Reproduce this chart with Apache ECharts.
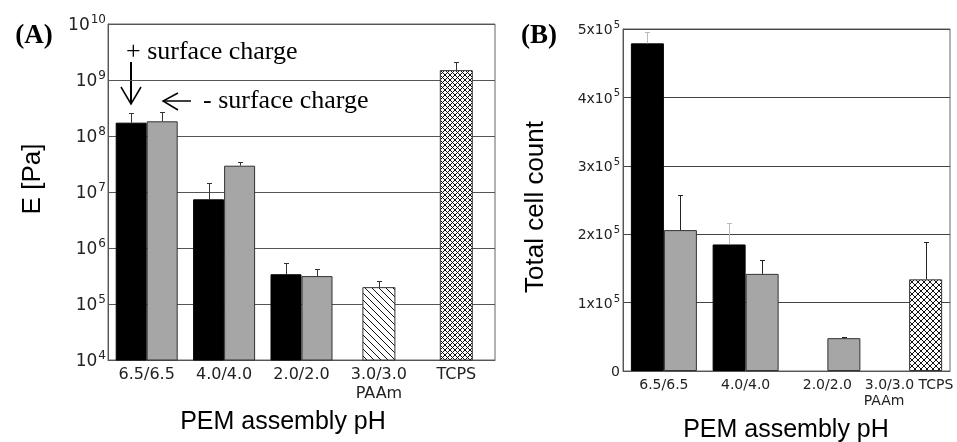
<!DOCTYPE html>
<html lang="en">
<head>
	<meta charset="UTF-8">
	<title></title>
	<script src="https://cdn.jsdelivr.net/npm/echarts@6/dist/echarts.min.js"></script>
	<style>
		html, body{
			width: 100%;
			height: 100%;
			padding: 0;
			margin: 0;
			background-color: #fff;
		}
		#main{
			width: 957px;
			height: 442px;
		}
	</style>
</head>
<body>
	<div id="main"></div>
</body>
<script>
	// (A) modulus, log scale
	let catsA = ['6.5/6.5', '4.0/4.0', '2.0/2.0', '3.0/3.0\nPAAm', 'TCPS'];
	let modBlack = [1.73e8, 7.4e6, 3.4e5, null, null];
	let modBlackTop = [2.55e8, 1.47e7, 5.3e5, null, null];
	let modGray = [1.83e8, 2.95e7, 3.15e5, null, null];
	let modGrayTop = [2.7e8, 3.5e7, 4.3e5, null, null];
	let modCtrl = [null, null, null, 2.0e5, 1.5e9];
	let modCtrlTop = [null, null, null, 2.6e5, 2.1e9];

	// (B) total cell count
	let catsB = ['6.5/6.5', '4.0/4.0', '2.0/2.0', '3.0/3.0 TCPS\nPAAm'];
	let cellBlack = [4.79e5, 1.85e5, null, null];
	let cellBlackTop = [4.95e5, 2.17e5, null, null];
	let cellGray = [2.06e5, 1.42e5, 4.8e4, null];
	let cellGrayTop = [2.57e5, 1.63e5, 5.0e4, null];
	let cellCtrl = [null, null, null, 1.34e5];
	let cellCtrlTop = [null, null, null, 1.88e5];

	let myChart = echarts.init(document.getElementById('main'));

	// 填充图案
	function makePattern(size, both){
		let c = document.createElement('canvas');
		c.width = size;
		c.height = size;
		let ctx = c.getContext('2d');
		ctx.fillStyle = '#fff';
		ctx.fillRect(0, 0, size, size);
		ctx.strokeStyle = '#111';
		ctx.lineWidth = 1;
		for(let k = -1; k <= 1; k++){
			ctx.beginPath();
			ctx.moveTo(k * size, 0);
			ctx.lineTo(k * size + size, size);
			ctx.stroke();
			if(both){
				ctx.beginPath();
				ctx.moveTo(k * size + size, 0);
				ctx.lineTo(k * size, size);
				ctx.stroke();
			}
		}
		return {image: c, repeat: 'repeat'};
	}
	let hatch = makePattern(7, false);
	let crossA = makePattern(5, true);
	let crossB = makePattern(6, true);

	// 误差线
	function errSeries(xi, yi, vals, tops, dx, color){
		let data = [];
		vals.forEach((v, i) => {
			if(v != null) data.push([i, v, tops[i]]);
		});
		return {
			type: 'custom',
			xAxisIndex: xi,
			yAxisIndex: yi,
			z: 5,
			encode: {x: 0, y: [1, 2]},
			data: data,
			renderItem: function(params, api){
				let a = api.coord([api.value(0), api.value(1)]);
				let b = api.coord([api.value(0), api.value(2)]);
				let x = Math.round(a[0] + dx) + 0.5;
				let y = Math.round(b[1]) + 0.5;
				return {
					type: 'group',
					children: [
						{type: 'line', shape: {x1: x, y1: a[1], x2: x, y2: y}, style: {stroke: color, lineWidth: 1}},
						{type: 'line', shape: {x1: x - 2.5, y1: y, x2: x + 2.5, y2: y}, style: {stroke: color, lineWidth: 1}}
					]
				};
			}
		};
	}

	let supRich = {
		b: {fontFamily: 'DejaVu Sans', fontSize: 17, color: '#222', verticalAlign: 'bottom', lineHeight: 20},
		s: {fontFamily: 'DejaVu Sans', fontSize: 12, color: '#222', verticalAlign: 'top', lineHeight: 12, padding: [0, 0, 10, 1]}
	};
	let supRichB = {
		b: {fontFamily: 'DejaVu Sans', fontSize: 14, color: '#222', verticalAlign: 'bottom', lineHeight: 17},
		s: {fontFamily: 'DejaVu Sans', fontSize: 10, color: '#222', verticalAlign: 'top', lineHeight: 10, padding: [0, 0, 9, 1]}
	};

	let catAxis = {
		type: 'category',
		axisLine: {lineStyle: {color: '#555'}},
		axisTick: {inside: true, length: 5, lineStyle: {color: '#444'}},
		axisLabel: {interval: 0, color: '#222', fontFamily: 'DejaVu Sans'}
	};

	myChart.setOption({
		animation: false,
		grid: [
			{left: 108, top: 24, width: 387, height: 336, show: true, borderColor: '#666', borderWidth: 1},
			{left: 623, top: 29, width: 327, height: 342, show: true, borderColor: '#666', borderWidth: 1}
		],
		xAxis: [
			Object.assign({}, catAxis, {
				gridIndex: 0,
				data: catsA,
				axisLabel: Object.assign({}, catAxis.axisLabel, {fontSize: 16, margin: 5, lineHeight: 19})
			}),
			{type: 'category', gridIndex: 0, data: catsA, show: false},
			Object.assign({}, catAxis, {
				gridIndex: 1,
				data: catsB,
				axisLabel: Object.assign({}, catAxis.axisLabel, {
					margin: 6,
					formatter: function(v){
						let arr = v.split('\n');
						let s = '{n|' + arr[0] + '}';
						if(arr[1]) s += '\n{n|' + arr[1] + '}{sp| }';
						return s;
					},
					rich: {
						n: {fontFamily: 'DejaVu Sans', fontSize: 14, color: '#222', lineHeight: 16},
						sp: {width: 50, fontSize: 14}
					}
				})
			})
		],
		yAxis: [
			{
				type: 'log',
				logBase: 10,
				gridIndex: 0,
				min: 1e4,
				max: 1e10,
				axisLine: {show: true, lineStyle: {color: '#555'}},
				axisTick: {show: false},
				splitLine: {lineStyle: {color: '#555'}},
				axisLabel: {
					margin: 2,
					formatter: function(v){
						return '{b|10}{s|' + Math.round(Math.log10(v)) + '}';
					},
					rich: supRich
				}
			},
			{
				type: 'value',
				gridIndex: 1,
				min: 0,
				max: 5e5,
				interval: 1e5,
				axisLine: {show: true, lineStyle: {color: '#555'}},
				axisTick: {show: false},
				splitLine: {lineStyle: {color: '#444'}},
				axisLabel: {
					margin: 3,
					formatter: function(v){
						return v === 0 ? '{b|0}' : '{b|' + (v / 1e5) + 'x10}{s|5}';
					},
					rich: supRichB
				}
			}
		],
		series: [
			{
				type: 'bar', xAxisIndex: 0, yAxisIndex: 0, data: modBlack,
				barWidth: 31, barGap: '0%',
				itemStyle: {color: '#000', borderColor: '#000', borderWidth: 1}
			},
			{
				type: 'bar', xAxisIndex: 0, yAxisIndex: 0, data: modGray,
				barWidth: 31, barGap: '0%',
				itemStyle: {color: '#a6a6a6', borderColor: '#333', borderWidth: 1}
			},
			{
				type: 'bar', xAxisIndex: 1, yAxisIndex: 0,
				data: modCtrl.map((v, i) => v == null ? null : {value: v, itemStyle: {color: i == 3 ? hatch : crossA}}),
				barWidth: 33,
				itemStyle: {borderColor: '#333', borderWidth: 1}
			},
			errSeries(0, 0, modBlack, modBlackTop, -15.5, '#333'),
			errSeries(0, 0, modGray, modGrayTop, 15.5, '#333'),
			errSeries(1, 0, modCtrl, modCtrlTop, 0, '#333'),
			{
				type: 'bar', xAxisIndex: 2, yAxisIndex: 1, data: cellBlack,
				barWidth: 33, barGap: '0%',
				itemStyle: {color: '#000', borderColor: '#000', borderWidth: 1}
			},
			{
				type: 'bar', xAxisIndex: 2, yAxisIndex: 1,
				data: cellGray.map((v, i) => cellCtrl[i] != null ? {value: cellCtrl[i], itemStyle: {color: crossB}} : v),
				barWidth: 33, barGap: '0%',
				itemStyle: {color: '#a6a6a6', borderColor: '#333', borderWidth: 1}
			},
			errSeries(2, 1, cellBlack, cellBlackTop, -16.5, '#bbb'),
			errSeries(2, 1, cellGray, cellGrayTop, 16.5, '#222'),
			errSeries(2, 1, cellCtrl, cellCtrlTop, 16.5, '#222')
		],
		graphic: [
			{type: 'text', x: 34, y: 36, style: {text: '(A)', font: 'bold 27px "Liberation Serif"', fill: '#000', textAlign: 'center', textVerticalAlign: 'middle', align: 'center', verticalAlign: 'middle'}},
			{type: 'text', x: 539, y: 36, style: {text: '(B)', font: 'bold 27px "Liberation Serif"', fill: '#000', textAlign: 'center', textVerticalAlign: 'middle', align: 'center', verticalAlign: 'middle'}},
			{type: 'text', x: 126, y: 52, style: {text: '+ surface charge', font: '26px "Liberation Serif"', fill: '#000', textAlign: 'left', textVerticalAlign: 'middle', align: 'left', verticalAlign: 'middle'}},
			{type: 'text', x: 203, y: 101, style: {text: '- surface charge', font: '26px "Liberation Serif"', fill: '#000', textAlign: 'left', textVerticalAlign: 'middle', align: 'left', verticalAlign: 'middle'}},
			{type: 'line', shape: {x1: 131, y1: 62, x2: 131, y2: 103}, style: {stroke: '#000', lineWidth: 2}},
			{type: 'polyline', shape: {points: [[121, 87], [131, 104], [141, 87]]}, style: {stroke: '#000', lineWidth: 1.5, fill: null}},
			{type: 'line', shape: {x1: 164, y1: 101, x2: 191, y2: 101}, style: {stroke: '#000', lineWidth: 1.5}},
			{type: 'polyline', shape: {points: [[178, 93], [163, 101], [178, 110]]}, style: {stroke: '#000', lineWidth: 1.5, fill: null}},
			{type: 'text', x: 33, y: 179, rotation: Math.PI / 2, style: {text: 'E [Pa]', font: '26px "Liberation Sans"', fill: '#000', textAlign: 'center', textVerticalAlign: 'middle', align: 'center', verticalAlign: 'middle'}},
			{type: 'text', x: 283, y: 422, style: {text: 'PEM assembly pH', font: '25px "Liberation Sans"', fill: '#000', textAlign: 'center', textVerticalAlign: 'middle', align: 'center', verticalAlign: 'middle'}},
			{type: 'text', x: 536, y: 207, rotation: Math.PI / 2, style: {text: 'Total cell count', font: '26px "Liberation Sans"', fill: '#000', textAlign: 'center', textVerticalAlign: 'middle', align: 'center', verticalAlign: 'middle'}},
			{type: 'text', x: 786, y: 430, style: {text: 'PEM assembly pH', font: '25px "Liberation Sans"', fill: '#000', textAlign: 'center', textVerticalAlign: 'middle', align: 'center', verticalAlign: 'middle'}}
		]
	});
</script>
</html>
